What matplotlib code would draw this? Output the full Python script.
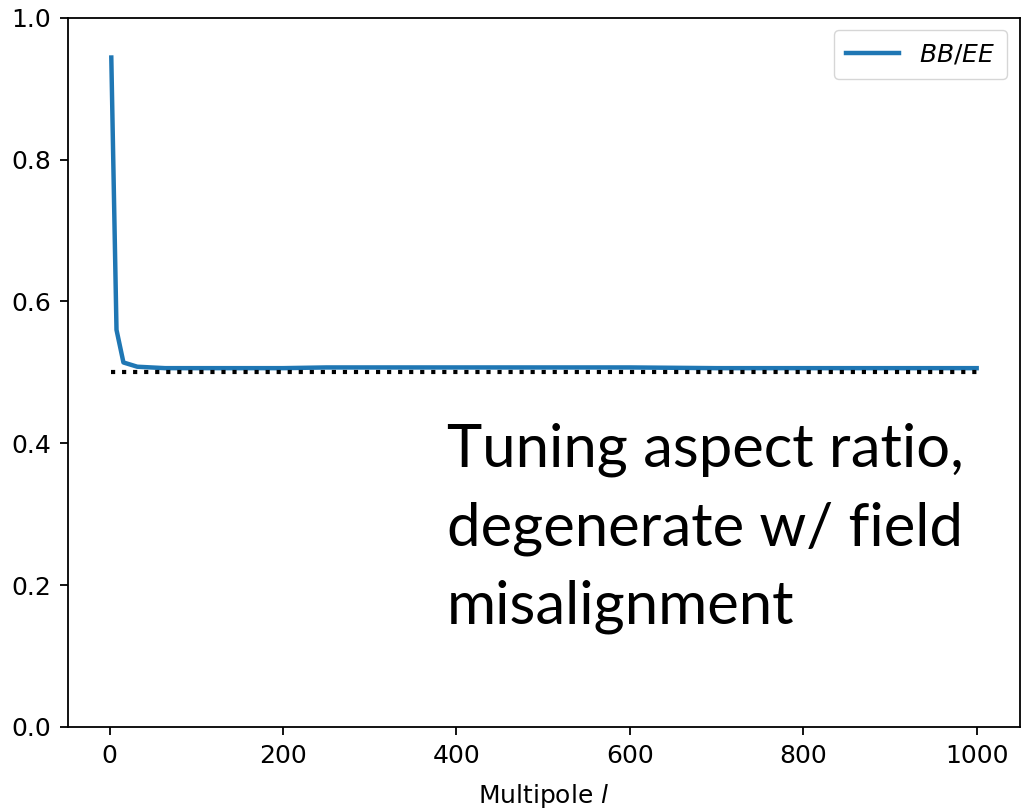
import matplotlib
matplotlib.use("Agg")
import matplotlib.pyplot as plt

# BB/EE ratio versus multipole
ell = [2, 8, 16, 32, 64, 100, 150, 200, 250, 300, 400, 500, 600, 700, 800, 900, 1000]
bb_ee = [0.944, 0.560, 0.514, 0.508, 0.506, 0.506, 0.506, 0.506, 0.507, 0.507,
         0.507, 0.507, 0.507, 0.506, 0.506, 0.506, 0.506]
ref_level = 0.5
note = "Tuning aspect ratio,\ndegenerate w/ field\nmisalignment"

fig = plt.figure(figsize=(10.23, 8.10), dpi=100)
ax = fig.add_axes([0.0665, 0.1025, 0.9305, 0.8755])

ax.plot(ell, bb_ee, color="#1f77b4", linewidth=3.2, label=r"$BB/EE$")
ax.plot([ell[0], ell[-1]], [ref_level, ref_level], color="black",
        linestyle=":", linewidth=3.0)

ax.set_ylim(0, 1.0)
ax.set_xticks([0, 200, 400, 600, 800, 1000])
ax.tick_params(labelsize=18, length=6, width=1.3, pad=6)
for s in ax.spines.values():
    s.set_linewidth(1.3)
ax.set_xlabel(r"Multipole $l$", fontsize=18, labelpad=10)

ax.legend(loc="upper right", fontsize=18, handlelength=2.1, borderpad=0.5)

fig.text(0.437, 0.478, note, fontsize=43, family="Lato",
         ha="left", va="top", linespacing=1.54)

fig.savefig("out.png", dpi=100)
